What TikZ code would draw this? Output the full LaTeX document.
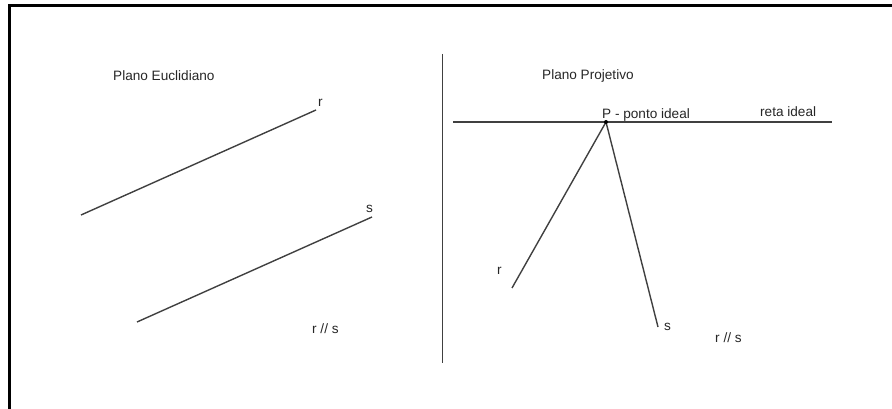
\documentclass[tikz,border=0pt]{standalone}
\usepackage{fontspec}
\setmainfont{Liberation Sans}
\begin{document}
\begin{tikzpicture}[x=1pt,y=-1pt,
  ln/.style={draw=black!75,line width=1.4pt},
  frame/.style={draw=black,line width=2.2pt},
  lbl/.style={inner sep=0pt,anchor=base west,text=black!85,font=\fontsize{13.6}{15}\selectfont},
  lab/.style={inner sep=0pt,anchor=base west,text=black!85,font=\fontsize{13.6}{15}\selectfont}]
\useasboundingbox (0,0) rectangle (892,409);
% frame
\coordinate (ftl) at (9.5,5.5);
\coordinate (ftr) at (892,5.5);
\coordinate (fbl) at (9.5,409);
\draw[frame] (ftr) -- (ftl) -- (fbl);
% titles
\node[lbl] (te) at (113,81) {Plano Euclidiano};
\node[lbl] (tp) at (542,80) {Plano Projetivo};
% Euclidean plane
\coordinate (r1) at (81,215);
\coordinate (r2) at (316,110);
\coordinate (s1) at (137,322);
\coordinate (s2) at (372,217);
\draw[ln] (r1) -- (r2);
\draw[ln] (s1) -- (s2);
\node[lab] (lr) at (318,107) {r};
\node[lab] (ls) at (366,212) {s};
\node[lab] (par1) at (312,333) {r // s};
% divider
\coordinate (d1) at (442.5,54);
\coordinate (d2) at (442.5,363);
\draw[ln] (d1) -- (d2);
% projective plane
\coordinate (h1) at (453,122);
\coordinate (h2) at (832,122);
\draw[ln] (h1) -- (h2);
\coordinate (P) at (606,122);
\coordinate (pr) at (512,288);
\coordinate (ps) at (658,327);
\draw[ln] (P) -- (pr);
\draw[ln] (P) -- (ps);
\fill[black] (P) circle (2);
\node[lab] (pl) at (602,119) {P - ponto ideal};
\node[lab] (ri) at (760,117) {reta ideal};
\node[lab] (lr2) at (497,274) {r};
\node[lab] (ls2) at (664,330) {s};
\node[lab] (par2) at (715,342) {r // s};
\end{tikzpicture}
\end{document}
